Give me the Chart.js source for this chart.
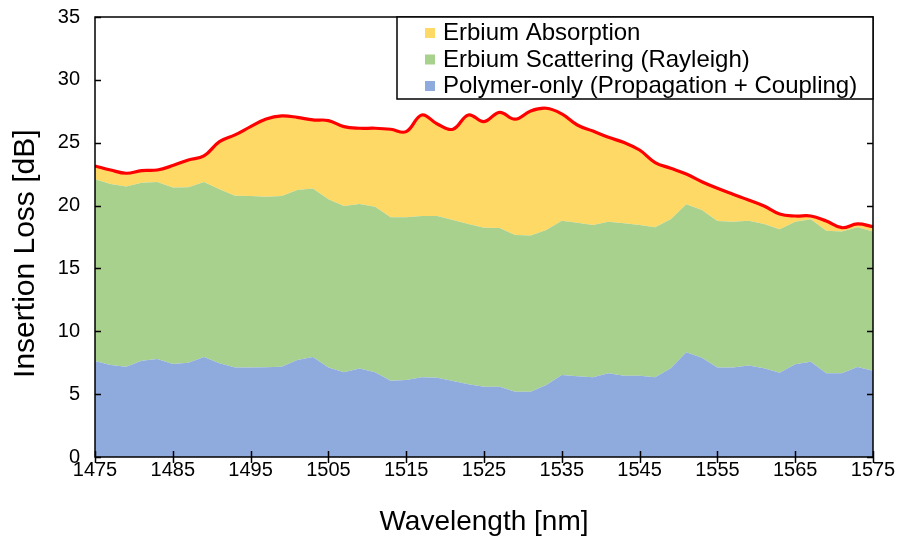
<!DOCTYPE html>
<html>
<head>
<meta charset="utf-8">
<script src="https://cdn.jsdelivr.net/npm/chart.js@4.4.1/dist/chart.umd.min.js"></script>
<style>
  html, body { margin: 0; padding: 0; background: #fff; }
  #wrap { width: 903px; height: 542px; position: relative; }
</style>
</head>
<body>
<div id="wrap"><canvas id="chart" width="903" height="542"></canvas></div>
<script>
// ---- Data (2 nm steps) ----
const wavelength = [1475, 1477, 1479, 1481, 1483, 1485, 1487, 1489, 1491, 1493,
  1495, 1497, 1499, 1501, 1503, 1505, 1507, 1509, 1511, 1513,
  1515, 1517, 1519, 1521, 1523, 1525, 1527, 1529, 1531, 1533,
  1535, 1537, 1539, 1541, 1543, 1545, 1547, 1549, 1551, 1553,
  1555, 1557, 1559, 1561, 1563, 1565, 1567, 1569, 1571, 1573, 1575];

const polymer = [7.64, 7.32, 7.18, 7.66, 7.80, 7.40, 7.50, 7.96, 7.45, 7.11,
  7.11, 7.13, 7.18, 7.72, 7.96, 7.11, 6.74, 7.03, 6.74, 6.07,
  6.13, 6.34, 6.31, 6.05, 5.78, 5.59, 5.59, 5.20, 5.20, 5.73,
  6.52, 6.42, 6.34, 6.66, 6.47, 6.47, 6.34, 7.05, 8.33, 7.90,
  7.11, 7.11, 7.27, 7.05, 6.71, 7.37, 7.58, 6.66, 6.66, 7.16, 6.87];

const scattering = [14.45, 14.40, 14.33, 14.16, 14.08, 14.03, 13.95, 13.92, 13.84, 13.68,
  13.65, 13.58, 13.58, 13.52, 13.39, 13.39, 13.23, 13.10, 13.17, 13.00,
  12.94, 12.83, 12.86, 12.80, 12.76, 12.65, 12.63, 12.46, 12.41, 12.33,
  12.28, 12.22, 12.12, 12.06, 12.12, 11.99, 11.93, 11.86, 11.77, 11.75,
  11.66, 11.61, 11.53, 11.49, 11.40, 11.35, 11.33, 11.34, 11.27, 11.11, 11.06];

const absorption = [1.06, 1.11, 1.06, 0.96, 0.95, 1.75, 2.18, 2.07, 3.80, 4.83,
  5.52, 6.18, 6.37, 5.78, 5.46, 6.26, 6.31, 6.02, 6.24, 7.00,
  6.81, 8.04, 7.32, 7.22, 8.67, 8.44, 9.20, 9.21, 9.92, 9.68,
  8.49, 7.77, 7.47, 6.71, 6.42, 5.96, 5.15, 4.06, 2.41, 2.25,
  2.60, 2.18, 1.65, 1.43, 1.22, 0.45, 0.26, 0.77, 0.31, 0.27, 0.39];

const total = [23.15, 22.83, 22.57, 22.78, 22.83, 23.18, 23.63, 23.95, 25.09, 25.62,
  26.28, 26.89, 27.13, 27.02, 26.81, 26.76, 26.28, 26.15, 26.15, 26.07,
  25.88, 27.21, 26.49, 26.07, 27.21, 26.68, 27.42, 26.87, 27.53, 27.74,
  27.29, 26.41, 25.93, 25.43, 25.01, 24.42, 23.42, 22.97, 22.51, 21.90,
  21.37, 20.90, 20.45, 19.97, 19.33, 19.17, 19.17, 18.77, 18.24, 18.54, 18.32];

const FONT = "'Liberation Sans', Arial, sans-serif";
Chart.defaults.color = '#000';
Chart.defaults.font.family = FONT;

const pts = (vals) => vals.map((v, i) => ({ x: wavelength[i], y: v }));

// ---- Frame, inside tick marks and boxed legend ----
const frame = {
  id: 'frame',
  afterDatasetsDraw(chart) {
    const { ctx, chartArea: a, scales: { x, y } } = chart;
    ctx.save();
    ctx.strokeStyle = '#000';
    ctx.lineWidth = 1.5;
    ctx.strokeRect(a.left, a.top, a.right - a.left, a.bottom - a.top);
    ctx.beginPath();
    y.ticks.forEach((t) => {
      const py = Math.round(y.getPixelForValue(t.value)) + 0.5;
      ctx.moveTo(a.left, py); ctx.lineTo(a.left + 6, py);
      ctx.moveTo(a.right, py); ctx.lineTo(a.right - 6, py);
    });
    x.ticks.forEach((t) => {
      const px = Math.round(x.getPixelForValue(t.value)) + 0.5;
      ctx.moveTo(px, a.bottom - 6); ctx.lineTo(px, a.bottom + 6);
    });
    ctx.stroke();

    // legend box (areas only, top to bottom like the stack)
    const lx = 397, ly = a.top, lw = a.right - lx, lh = 82;
    ctx.fillStyle = '#fff';
    ctx.fillRect(lx, ly, lw, lh);
    ctx.strokeRect(lx, ly, lw, lh);
    ctx.font = `24px ${FONT}`;
    ctx.textBaseline = 'alphabetic';
    [3, 2, 1].forEach((di, row) => {
      const ds = chart.data.datasets[di];
      const base = ly + 23 + row * 26.5;
      ctx.fillStyle = ds.backgroundColor;
      ctx.fillRect(lx + 28, base - 12, 10, 10);
      ctx.fillStyle = '#000';
      ctx.fillText(ds.label, lx + 46, base);
    });
    ctx.restore();
  }
};

const area = (label, data, color, fill) => ({
  label, data: pts(data), stack: 'loss', order: 1, fill,
  backgroundColor: color, borderColor: 'transparent', borderWidth: 0,
  pointRadius: 0, tension: 0
});

new Chart(document.getElementById('chart'), {
  type: 'line',
  data: {
    datasets: [
      { label: 'Total', data: pts(total), stack: 'total', order: 0, fill: false,
        borderColor: '#ff0000', borderWidth: 3.2, pointRadius: 0, tension: 0.4 },
      area('Polymer-only (Propagation + Coupling)', polymer, '#8faadc', 'origin'),
      area('Erbium Scattering (Rayleigh)', scattering, '#a9d18e', '-1'),
      area('Erbium Absorption', absorption, '#ffd966', '-1')
    ]
  },
  options: {
    responsive: false,
    animation: false,
    layout: { padding: { left: 0, right: 30, top: 17, bottom: 0 } },
    plugins: { legend: { display: false }, tooltip: { enabled: false } },
    scales: {
      x: {
        type: 'linear', min: 1475, max: 1575,
        grid: { display: false, drawTicks: false }, border: { display: false },
        ticks: { stepSize: 10, autoSkip: false, maxRotation: 0, padding: 1,
          font: { size: 20 }, callback: (v) => String(v) },
        title: { display: true, text: 'Wavelength [nm]', font: { size: 28 },
          padding: { top: 0, bottom: 3 } },
        afterFit: (s) => { s.height = 85; }
      },
      y: {
        stacked: true, min: 0, max: 35,
        grid: { display: false, drawTicks: true, tickLength: 14 }, border: { display: false },
        ticks: { stepSize: 5, padding: 1, font: { size: 20 } },
        title: { display: true, text: 'Insertion Loss [dB]    ', font: { size: 30 },
          padding: { top: 8, bottom: 0 } },
        afterFit: (s) => { s.width = 95; }
      }
    }
  },
  plugins: [frame]
});
</script>
</body>
</html>
